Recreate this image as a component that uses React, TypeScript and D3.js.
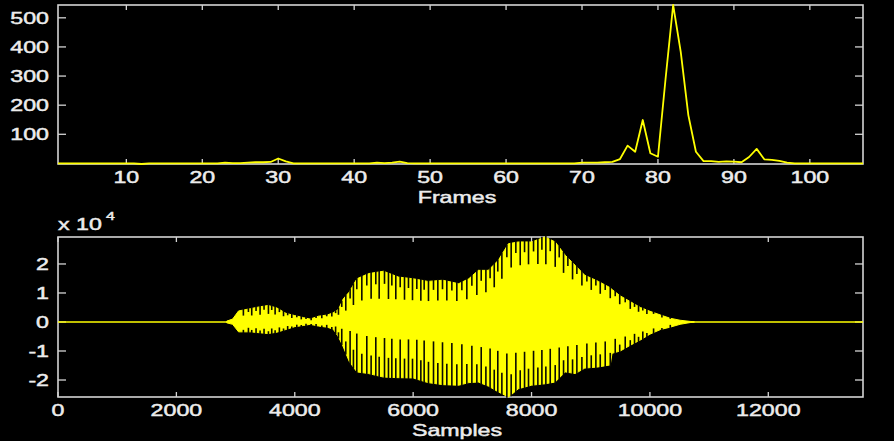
import React from 'react';
import * as d3 from 'd3';

// ---- Top panel: per-frame values (frames 1..107)
const frameValues = [
  0, 0, 0, 0, 0, 0, 0, 0, 0, 0,
  0, -2, 0, 0, 0, 0, 0, 0, 0, 0,
  0, 0, 3, 1, 1, 3, 4, 4, 5, 17,
  7, 0, 0, 0, 0, 0, 0, 0, 0, 0,
  0, 0, 3, 1, 3, 6, 1, 0, 0, 0,
  0, 0, 0, 0, 0, 0, 0, 0, 0, 0,
  0, 0, 0, 0, 0, 0, 0, 0, 0, 3,
  3, 3, 4, 5, 15, 61, 40, 149, 35, 23,
  290, 544, 383, 166, 40, 8, 8, 5, 7, 6,
  4, 22, 50, 14, 12, 9, 3, 0, 0, 0,
  0, 0, 0, 0, 0, 0, 0,
];
const frameTicks = [10, 20, 30, 40, 50, 60, 70, 80, 90, 100];
const frameValueTicks = [100, 200, 300, 400, 500];

// ---- Bottom panel: waveform envelope (amplitudes in units of 1e4)
const totalSamples = 13600;
const sampleTicks = [0, 2000, 4000, 6000, 8000, 10000, 12000];
const ampTicks = [-2, -1, 0, 1, 2];
const envSamples = [
  2850, 2950, 3050, 3250, 3400, 3550, 3700, 3850, 4000, 4150,
  4260, 4400, 4550, 4650, 4740, 4820, 4920, 5050, 5250, 5500,
  5750, 6000, 6250, 6500, 6770, 6940, 7100, 7270, 7440, 7610,
  7780, 8000, 8230, 8400, 8570, 8740, 8900, 9130, 9330, 9360,
  9500, 9670, 9840, 10000, 10180, 10340, 10510, 10680, 10750,
];
const upperOuter = [
  0.03, 0.10, 0.38, 0.46, 0.52, 0.57, 0.48, 0.30, 0.22, 0.15,
  0.10, 0.20, 0.24, 0.32, 0.44, 0.80, 1.03, 1.49, 1.67, 1.75,
  1.55, 1.49, 1.40, 1.44, 1.32, 1.49, 1.78, 1.78, 2.13, 2.70,
  2.76, 2.76, 2.93, 2.76, 2.30, 1.95, 1.61, 1.40, 1.18, 1.12,
  0.90, 0.70, 0.50, 0.37, 0.24, 0.13, 0.06, 0.02, 0.01,
];
const lowerOuter = [
  -0.03, -0.08, -0.34, -0.34, -0.37, -0.40, -0.35, -0.26, -0.16, -0.12,
  -0.08, -0.14, -0.18, -0.25, -0.52, -0.86, -1.36, -1.72, -1.78, -1.90,
  -1.92, -1.93, -2.09, -2.16, -2.18, -2.09, -2.07, -2.21, -2.41, -2.586,
  -2.30, -2.18, -2.13, -2.07, -1.72, -1.78, -1.59, -1.55, -1.48, -1.08,
  -1.00, -0.80, -0.62, -0.42, -0.26, -0.18, -0.08, -0.02, -0.01,
];
const upperInner = [
  0.02, 0.06, 0.22, 0.22, 0.25, 0.28, 0.25, 0.18, 0.12, 0.08,
  0.05, 0.12, 0.15, 0.20, 0.25, 0.35, 0.45, 0.70, 0.80, 0.80,
  0.78, 0.75, 0.72, 0.75, 0.72, 0.80, 0.95, 1.05, 1.30, 1.85,
  1.95, 2.00, 2.00, 1.90, 1.65, 1.40, 1.20, 1.00, 0.82, 0.78,
  0.60, 0.45, 0.33, 0.25, 0.17, 0.09, 0.04, 0.01, 0.0,
];
const lowerInner = [
  -0.02, -0.05, -0.20, -0.20, -0.22, -0.24, -0.20, -0.15, -0.10, -0.07,
  -0.05, -0.08, -0.10, -0.12, -0.20, -0.25, -0.30, -0.40, -0.50, -0.55,
  -0.60, -0.60, -0.65, -0.70, -0.75, -0.80, -0.85, -0.90, -1.00, -1.10,
  -1.05, -1.00, -0.95, -0.90, -0.85, -0.80, -0.75, -0.70, -0.65, -0.60,
  -0.55, -0.45, -0.35, -0.25, -0.17, -0.10, -0.05, -0.01, 0.0,
];
// pitch-period gaps visible as dark vertical lines
const pitchMarks = [
  3132, 3217, 3273, 3346, 3414, 3481, 3555, 3611, 3668, 3740,
  3810, 3880, 3950, 4034, 4110, 4190, 4277, 4360, 4457, 4540,
  4626, 4690, 4738, 4794, 4862, 4935, 4991, 5048, 5133, 5217,
  5290, 5369, 5426, 5516, 5583, 5640, 5707, 5781, 5854, 5921,
  5989, 6062, 6130, 6186, 6259, 6344, 6417, 6496, 6569, 6654,
  6738, 6823, 6907, 6992, 7076, 7150, 7229, 7300, 7370, 7430,
  7499, 7583, 7656, 7735, 7809, 7882, 7949, 8034, 8107, 8175,
  8242, 8316, 8400, 8468, 8541, 8614, 8693, 8766, 8851, 8935,
  9009, 9087, 9161, 9245, 9330, 9414, 9490, 9583, 9668, 9740,
  9808, 9880, 9949, 10062, 10203, 10344,
];

const FONT = 'Liberation Sans, Arial, Helvetica, sans-serif';
const TEXT = '#ececec';
const AXIS = '#d4d4d4';
const YELLOW = '#ffff00';
const SX = 1.45;

function Label({ x, y, anchor = 'middle', size = 16, children }: any) {
  return (
    <text
      transform={`translate(${x},${y}) scale(${SX},1)`}
      textAnchor={anchor}
      fontFamily={FONT}
      fontSize={size}
      fill={TEXT}
      stroke={TEXT}
      strokeWidth={0.45}
    >
      {children}
    </text>
  );
}

function Box({ x, y, xTicks, yTicks, xFmt, yFmt }: any) {
  const [l, r] = x.range();
  const [b, t] = y.range();
  const tx = 5;
  const ty = 8;
  return (
    <g>
      {xTicks.map((v: number) => (
        <g key={'x' + v}>
          <line x1={x(v)} x2={x(v)} y1={b} y2={b - tx} stroke={AXIS} strokeWidth={1.3} />
          <line x1={x(v)} x2={x(v)} y1={t} y2={t + tx} stroke={AXIS} strokeWidth={1.3} />
          <Label x={x(v)} y={b + 19}>{xFmt(v)}</Label>
        </g>
      ))}
      {yTicks.map((v: number) => (
        <g key={'y' + v}>
          <line x1={l} x2={l + ty} y1={y(v)} y2={y(v)} stroke={AXIS} strokeWidth={1.3} />
          <line x1={r} x2={r - ty} y1={y(v)} y2={y(v)} stroke={AXIS} strokeWidth={1.3} />
          <Label x={l - 9} y={y(v) + 5.7} anchor="end">{yFmt(v)}</Label>
        </g>
      ))}
      <rect x={l} y={t} width={r - l} height={b - t} fill="none" stroke={AXIS} strokeWidth={1.6} />
    </g>
  );
}

export default function App() {
  const W = 894;
  const H = 441;
  const L = 58;
  const R = 863;

  // top panel
  const fx = d3.scaleLinear().domain([1, frameValues.length]).range([L, R]);
  const fy = d3.scaleLinear().domain(d3.extent(frameValues) as [number, number]).range([164, 5]);
  const frameLine = d3
    .line<number>()
    .x((_, i) => fx(i + 1))
    .y((d) => fy(d))(frameValues) as string;

  // bottom panel
  const sx = d3.scaleLinear().domain([0, totalSamples]).range([L, R]);
  const yMin = d3.min(lowerOuter) as number;
  const yMax = d3.max(upperOuter) as number;
  const sy = d3.scaleLinear().domain([yMin, yMax]).range([397, 237]);

  const env = envSamples.map((s, i) => ({ s, hi: upperOuter[i], lo: lowerOuter[i] }));
  const envArea = d3
    .area<{ s: number; hi: number; lo: number }>()
    .x((d) => sx(d.s))
    .y0((d) => sy(d.lo))
    .y1((d) => sy(d.hi))(env) as string;

  const uo = d3.scaleLinear().domain(envSamples).range(upperOuter).clamp(true);
  const ui = d3.scaleLinear().domain(envSamples).range(upperInner).clamp(true);
  const lo = d3.scaleLinear().domain(envSamples).range(lowerOuter).clamp(true);
  const li = d3.scaleLinear().domain(envSamples).range(lowerInner).clamp(true);

  return (
    <svg
      width={W}
      height={H}
      style={{ position: 'absolute', left: 0, top: 0, display: 'block' }}
    >
      <rect x={0} y={0} width={W} height={H} fill="#000" />

      {/* top panel */}
      <Box
        x={fx}
        y={fy}
        xTicks={frameTicks}
        yTicks={frameValueTicks}
        xFmt={(v: number) => String(v)}
        yFmt={(v: number) => String(v)}
      />
      <path d={frameLine} fill="none" stroke={YELLOW} strokeWidth={1.8} strokeLinejoin="round" />
      <Label x={457} y={203}>Frames</Label>

      {/* bottom panel */}
      <Box
        x={sx}
        y={sy}
        xTicks={sampleTicks}
        yTicks={ampTicks}
        xFmt={(v: number) => String(v)}
        yFmt={(v: number) => String(v)}
      />
      <line x1={sx(0)} x2={sx(totalSamples)} y1={sy(0)} y2={sy(0)} stroke={YELLOW} strokeWidth={1.4} />
      <path d={envArea} fill={YELLOW} stroke={YELLOW} strokeWidth={1} />
      {pitchMarks.map((s, i) => {
        const long = i % 2 === 0;
        const uOut = uo(s);
        const uIn = ui(s);
        const lOut = lo(s);
        const lIn = li(s);
        const uEnd = long ? uIn : uOut + 0.45 * (uIn - uOut);
        const lEnd = !long ? lIn : lOut + 0.5 * (lIn - lOut);
        const x = sx(s);
        return (
          <g key={'pm' + i}>
            <line x1={x} x2={x} y1={sy(uOut) - 1.5} y2={sy(uEnd)} stroke="#0a0a00" strokeWidth={1.6} />
            <line x1={x} x2={x} y1={sy(lOut) + 1.5} y2={sy(lEnd)} stroke="#0a0a00" strokeWidth={1.6} />
          </g>
        );
      })}
      <Label x={L} y={230} anchor="start">x 10</Label>
      <Label x={106} y={220} anchor="start" size={11}>4</Label>
      <Label x={457} y={436}>Samples</Label>
    </svg>
  );
}
